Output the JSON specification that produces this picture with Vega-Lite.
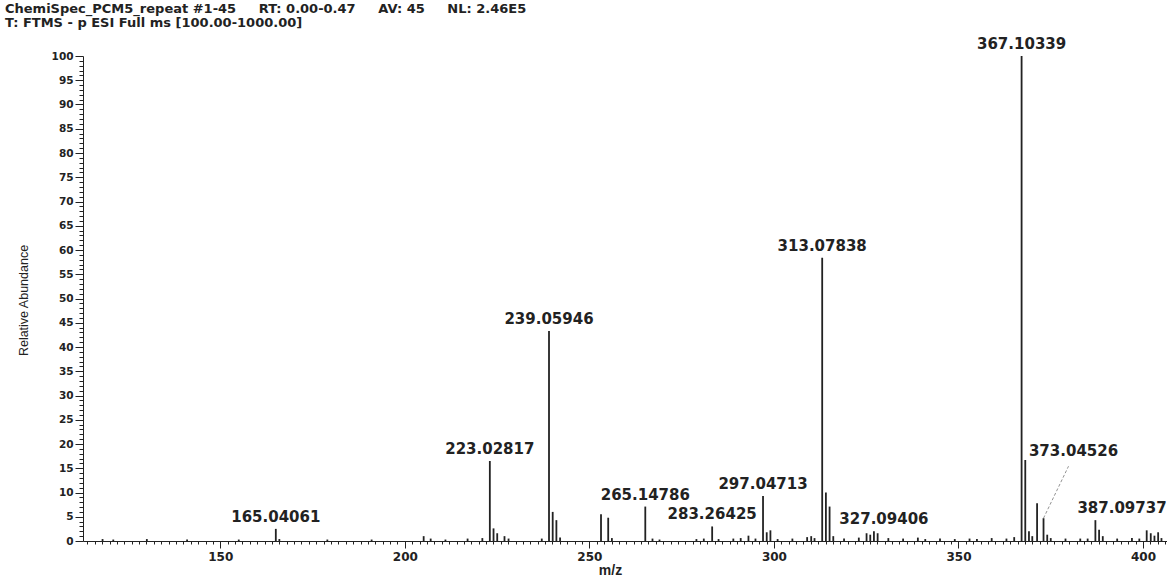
{
  "$schema": "https://vega.github.io/schema/vega-lite/v6.json",
  "autosize": "none",
  "width": 1084,
  "height": 485,
  "padding": {"left": 83, "top": 56, "right": 0, "bottom": 38},
  "background": "white",
  "title": {
    "text": ["ChemiSpec_PCM5_repeat #1-45\u00a0\u00a0\u00a0\u00a0\u00a0RT: 0.00-0.47\u00a0\u00a0\u00a0\u00a0\u00a0AV: 45\u00a0\u00a0\u00a0\u00a0\u00a0NL: 2.46E5", "T: FTMS - p ESI Full ms [100.00-1000.00]"],
    "anchor": "start",
    "frame": "group",
    "dx": -78,
    "dy": 37,
    "offset": 31,
    "baseline": "bottom",
    "font": "DejaVu Sans",
    "fontWeight": "bold",
    "fontSize": 13,
    "lineHeight": 14.5,
    "color": "#222222"
  },
  "config": {
    "view": {"stroke": null},
    "axis": {"grid": false, "domainColor": "#222222", "tickColor": "#222222", "labelColor": "#222222", "titleColor": "#222222"}
  },
  "data": {
    "values": [
      {"mz": 118.1, "ab": 0.4},
      {"mz": 121.0, "ab": 0.3},
      {"mz": 130.1, "ab": 0.4},
      {"mz": 141.0, "ab": 0.3},
      {"mz": 155.0, "ab": 0.3},
      {"mz": 165.04061, "ab": 2.5, "label": "165.04061"},
      {"mz": 166.0, "ab": 0.4},
      {"mz": 179.0, "ab": 0.3},
      {"mz": 191.0, "ab": 0.3},
      {"mz": 205.1, "ab": 1.0},
      {"mz": 207.0, "ab": 0.5},
      {"mz": 211.0, "ab": 0.3},
      {"mz": 217.0, "ab": 0.5},
      {"mz": 221.0, "ab": 0.6},
      {"mz": 223.02817, "ab": 16.5, "label": "223.02817"},
      {"mz": 224.03, "ab": 2.6},
      {"mz": 225.03, "ab": 1.6},
      {"mz": 227.0, "ab": 1.0},
      {"mz": 228.1, "ab": 0.5},
      {"mz": 237.1, "ab": 0.5},
      {"mz": 239.05946, "ab": 43.3, "label": "239.05946"},
      {"mz": 240.06, "ab": 6.0},
      {"mz": 241.06, "ab": 4.3},
      {"mz": 242.06, "ab": 0.7},
      {"mz": 253.15, "ab": 5.5},
      {"mz": 255.1, "ab": 4.8},
      {"mz": 256.1, "ab": 0.6},
      {"mz": 265.14786, "ab": 7.1, "label": "265.14786"},
      {"mz": 267.1, "ab": 0.5},
      {"mz": 269.0, "ab": 0.3},
      {"mz": 279.0, "ab": 0.4},
      {"mz": 281.0, "ab": 0.5},
      {"mz": 283.26425, "ab": 3.0, "label": "283.26425"},
      {"mz": 285.0, "ab": 0.4},
      {"mz": 289.0, "ab": 0.5},
      {"mz": 291.0, "ab": 0.6},
      {"mz": 293.1, "ab": 1.1},
      {"mz": 295.0, "ab": 0.5},
      {"mz": 297.04713, "ab": 9.3, "label": "297.04713"},
      {"mz": 298.05, "ab": 1.8},
      {"mz": 299.05, "ab": 2.2},
      {"mz": 301.0, "ab": 0.4},
      {"mz": 305.0, "ab": 0.5},
      {"mz": 309.0, "ab": 0.8},
      {"mz": 310.1, "ab": 1.0},
      {"mz": 311.0, "ab": 0.6},
      {"mz": 313.07838, "ab": 58.4, "label": "313.07838"},
      {"mz": 314.08, "ab": 10.0},
      {"mz": 315.08, "ab": 7.1},
      {"mz": 316.08, "ab": 1.0},
      {"mz": 319.0, "ab": 0.5},
      {"mz": 323.0, "ab": 0.7},
      {"mz": 325.1, "ab": 1.6},
      {"mz": 326.1, "ab": 1.3},
      {"mz": 327.09406, "ab": 2.0, "label": "327.09406"},
      {"mz": 328.1, "ab": 1.6},
      {"mz": 331.0, "ab": 0.6},
      {"mz": 335.0, "ab": 0.5},
      {"mz": 339.0, "ab": 0.7},
      {"mz": 341.0, "ab": 0.4},
      {"mz": 345.0, "ab": 0.5},
      {"mz": 349.0, "ab": 0.4},
      {"mz": 353.0, "ab": 0.5},
      {"mz": 355.0, "ab": 0.4},
      {"mz": 359.0, "ab": 0.6},
      {"mz": 363.0, "ab": 0.5},
      {"mz": 365.1, "ab": 0.8},
      {"mz": 367.10339, "ab": 100, "label": "367.10339"},
      {"mz": 368.1, "ab": 16.7},
      {"mz": 369.1, "ab": 2.0},
      {"mz": 370.0, "ab": 1.0},
      {"mz": 371.3, "ab": 7.8},
      {"mz": 373.04526, "ab": 4.7, "label": "373.04526"},
      {"mz": 374.05, "ab": 1.3},
      {"mz": 375.0, "ab": 0.6},
      {"mz": 379.0, "ab": 0.5},
      {"mz": 383.0, "ab": 0.5},
      {"mz": 385.0, "ab": 0.5},
      {"mz": 387.09737, "ab": 4.3, "label": "387.09737"},
      {"mz": 388.1, "ab": 2.3},
      {"mz": 389.1, "ab": 1.0},
      {"mz": 393.0, "ab": 0.5},
      {"mz": 397.0, "ab": 0.6},
      {"mz": 399.0, "ab": 0.5},
      {"mz": 401.0, "ab": 2.2},
      {"mz": 402.1, "ab": 1.6},
      {"mz": 403.1, "ab": 1.1},
      {"mz": 404.1, "ab": 1.8},
      {"mz": 405.0, "ab": 0.6}
    ]
  },
  "layer": [
    {
      "mark": {"type": "rule", "strokeWidth": 1.8, "color": "#222222"},
      "encoding": {
        "x": {
          "field": "mz", "type": "quantitative",
          "scale": {"domain": [112.8, 406.5], "nice": false, "zero": false},
          "axis": {
            "title": "m/z",
            "titleFont": "Liberation Sans", "titleFontSize": 14, "titleFontWeight": "bold",
            "titleX": 527, "titleY": 29, "titleBaseline": "middle",
            "labelFont": "DejaVu Sans", "labelFontWeight": "bold", "labelFontSize": 12,
            "labelPadding": 3, "labelOverlap": false, "labelFlush": false,
            "tickCount": 150,
            "labelExpr": "datum.value % 50 === 0 ? datum.label : ''",
            "tickSize": {"condition": {"test": "datum.value % 50 === 0", "value": 7}, "value": 3}
          }
        },
        "y": {
          "field": "ab", "type": "quantitative",
          "scale": {"domain": [0, 100], "nice": false},
          "axis": {
            "title": "Relative Abundance",
            "titleFont": "Liberation Sans", "titleFontSize": 12.5, "titleFontWeight": "normal",
            "titleAngle": 270, "titleX": -60, "titleY": 244, "titleAlign": "center", "titleBaseline": "middle",
            "labelFont": "DejaVu Sans", "labelFontWeight": "bold", "labelFontSize": 10.5,
            "labelPadding": 2, "labelOverlap": false, "labelFlush": false,
            "tickCount": 100,
            "labelExpr": "datum.value % 5 === 0 ? datum.label : ''",
            "tickSize": {"condition": {"test": "datum.value % 5 === 0", "value": 8}, "value": 4}
          }
        },
        "y2": {"datum": 0}
      }
    },
    {
      "transform": [{"filter": "datum.label != null && datum.mz !== 373.04526 && datum.mz !== 387.09737 && datum.mz !== 327.09406"}],
      "mark": {"type": "text", "align": "center", "baseline": "bottom", "dy": -4, "font": "DejaVu Sans", "fontWeight": "bold", "fontSize": 15, "color": "#222222"},
      "encoding": {
        "x": {"field": "mz", "type": "quantitative"},
        "y": {"field": "ab", "type": "quantitative"},
        "text": {"field": "label"}
      }
    },
    {
      "transform": [{"filter": "datum.mz === 387.09737"}],
      "mark": {"type": "text", "align": "left", "baseline": "bottom", "dx": -18, "dy": -4, "font": "DejaVu Sans", "fontWeight": "bold", "fontSize": 15, "color": "#222222"},
      "encoding": {
        "x": {"field": "mz", "type": "quantitative"},
        "y": {"field": "ab", "type": "quantitative"},
        "text": {"field": "label"}
      }
    },
    {
      "transform": [{"filter": "datum.mz === 327.09406"}],
      "mark": {"type": "text", "align": "center", "baseline": "bottom", "dx": 10, "dy": -4, "font": "DejaVu Sans", "fontWeight": "bold", "fontSize": 15, "color": "#222222"},
      "encoding": {
        "x": {"field": "mz", "type": "quantitative"},
        "y": {"field": "ab", "type": "quantitative"},
        "text": {"field": "label"}
      }
    },
    {
      "transform": [{"filter": "datum.mz === 373.04526"}],
      "mark": {"type": "text", "align": "center", "baseline": "bottom", "dx": 30, "dy": -59, "font": "DejaVu Sans", "fontWeight": "bold", "fontSize": 15, "color": "#222222"},
      "encoding": {
        "x": {"field": "mz", "type": "quantitative"},
        "y": {"field": "ab", "type": "quantitative"},
        "text": {"field": "label"}
      }
    },
    {
      "transform": [{"filter": "datum.mz === 373.04526"}],
      "mark": {"type": "rule", "strokeDash": [3, 2], "strokeWidth": 0.8, "color": "#777777", "x2Offset": 25, "y2Offset": -52},
      "encoding": {
        "x": {"field": "mz", "type": "quantitative"},
        "y": {"field": "ab", "type": "quantitative"},
        "x2": {"field": "mz"},
        "y2": {"field": "ab"}
      }
    }
  ]
}
